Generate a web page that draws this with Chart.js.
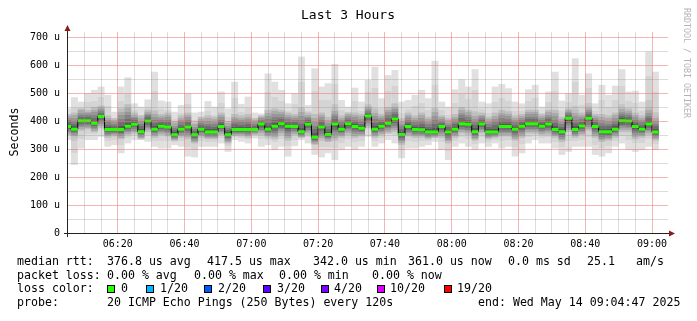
<!DOCTYPE html>
<html>
<head>
<meta charset="utf-8">
<script src="https://cdn.jsdelivr.net/npm/chart.js@4"></script>
<style>
html, body { margin: 0; padding: 0; background: #fff; }
</style>
</head>
<body>
<canvas id="smoke-chart" width="697" height="321"></canvas>
<script>
// samples every 120 s, first one starts 06:04 (minutes after 06:00)
const firstSample = 4;
const sampleStep = 2;
const viewStart = 4 + 47 / 60;   // 06:04:47
const viewEnd = 184 + 47 / 60;   // 09:04:47

// median rtt per sample (us)
const median = [380, 371, 401, 401, 392, 416, 370, 370, 370, 381,
    388, 362, 400, 371, 381, 379, 351, 371, 379, 351,
    371, 361, 361, 380, 351, 370, 370, 370, 370, 389,
    371, 381, 390, 381, 380, 362, 388, 342, 379, 352,
    389, 371, 390, 380, 374, 417.5, 371, 381, 392, 407,
    352, 380, 370, 369, 361, 361, 380, 361, 371, 390,
    388, 362, 389, 361, 361, 380, 380, 371, 381, 390,
    390, 381, 389, 370, 362, 410, 370, 382, 410, 380,
    362, 362, 371, 401, 400, 380, 371, 389, 361];

// slowest ping per sample
const smokeMax = [445, 485, 469, 499, 511, 523, 493, 433, 523, 556,
    463, 451, 477, 576, 473, 469, 433, 457, 499, 430,
    433, 471, 451, 505, 445, 540, 461, 487, 430, 427,
    570, 540, 511, 463, 499, 630, 457, 588, 523, 535,
    604, 475, 451, 519, 469, 546, 594, 481, 564, 582,
    469, 475, 493, 511, 481, 615, 469, 451, 513, 549,
    523, 585, 469, 463, 523, 532, 517, 469, 463, 513,
    529, 451, 505, 576, 473, 499, 624, 493, 570, 463,
    529, 493, 526, 585, 505, 508, 469, 648, 576];

// fastest ping per sample
const smokeMin = [332, 243, 302, 332, 332, 344, 308, 314, 285, 320,
    332, 332, 326, 308, 302, 302, 314, 308, 273, 270,
    308, 308, 308, 320, 290, 332, 326, 320, 338, 308,
    314, 296, 308, 273, 310, 332, 320, 279, 270, 285,
    261, 296, 308, 296, 308, 344, 308, 320, 332, 320,
    267, 302, 302, 308, 314, 326, 296, 261, 308, 320,
    308, 296, 320, 308, 320, 302, 308, 273, 285, 320,
    332, 320, 320, 302, 279, 290, 308, 308, 308, 279,
    273, 285, 308, 320, 296, 290, 296, 308, 296];

// dense part of the smoke (upper / lower)
const smokeHi = [425, 430, 445, 440, 450, 455, 420, 410, 445, 460,
    430, 420, 440, 435, 425, 430, 400, 420, 430, 395,
    415, 420, 415, 430, 400, 425, 420, 425, 410, 420,
    440, 445, 440, 430, 425, 445, 430, 425, 430, 415,
    445, 420, 430, 430, 425, 455, 440, 425, 450, 460,
    410, 430, 420, 430, 415, 445, 420, 410, 425, 450,
    440, 430, 430, 415, 430, 440, 435, 420, 425, 440,
    440, 425, 440, 440, 415, 445, 440, 430, 455, 425,
    425, 420, 430, 450, 445, 430, 420, 450, 420];

const smokeLo = [350, 340, 365, 370, 360, 375, 340, 345, 335, 350,
    355, 335, 360, 340, 350, 345, 330, 340, 335, 320,
    340, 335, 335, 350, 320, 345, 345, 340, 350, 350,
    340, 335, 350, 330, 350, 340, 350, 315, 330, 325,
    330, 340, 350, 340, 345, 375, 340, 350, 355, 360,
    315, 345, 340, 340, 335, 340, 340, 320, 340, 355,
    350, 330, 355, 335, 340, 345, 345, 330, 340, 355,
    355, 350, 350, 340, 325, 360, 340, 350, 365, 340,
    325, 330, 340, 360, 360, 335, 340, 350, 330];

const timeLabels = ['06:20', '06:40', '07:00', '07:20', '07:40', '08:00', '08:20', '08:40', '09:00'];
const yLabels = ['0', '100 u', '200 u', '300 u', '400 u', '500 u', '600 u', '700 u'];

const lossLabels = ['0', '1/20', '2/20', '3/20', '4/20', '10/20', '19/20'];
const lossColors = ['#26ff00', '#00b8ff', '#0059ff', '#5e00ff', '#7e00ff', '#dd00ff', '#ff0000'];

const rttStats = ['376.8 us avg', '417.5 us max', '342.0 us min', '361.0 us now', '0.0 ms sd', '25.1', 'am/s'];
const lossStats = ['0.00 % avg', '0.00 % max', '0.00 % min', '0.00 % now'];

const MONO = '"DejaVu Sans Mono", "Liberation Mono", monospace';
const majorGrid = 'rgba(235, 110, 110, 0.5)';
const minorGrid = 'rgba(140, 140, 140, 0.3)';
const outerShades = ['#e0e0e0', '#d4d4d4', '#c6c6c6'];
const innerShades = ['#bebebe', '#aaaaaa', '#979797', '#838383', '#6e6e6e', '#585858'];

// centre / edges of each 2 minute sample
const centers = median.map((_, i) => firstSample + i * sampleStep + sampleStep / 2);
const edges = median.map((_, i) => firstSample + i * sampleStep);

function bands(c, top, mid, bot, shades) {
    const h = bot - top;
    if (!(h > 0)) return shades[shades.length - 1];
    const g = c.createLinearGradient(0, top, 0, bot);
    const f = Math.min(Math.max((mid - top) / h, 0.02), 0.98);
    const n = shades.length;
    for (let k = 0; k < n; k++) {
        g.addColorStop(f * k / n, shades[k]);
        g.addColorStop(f * (k + 1) / n, shades[k]);
    }
    for (let k = 0; k < n; k++) {
        g.addColorStop(f + (1 - f) * k / n, shades[n - 1 - k]);
        g.addColorStop(f + (1 - f) * (k + 1) / n, shades[n - 1 - k]);
    }
    return g;
}

function smokeFill(hiArr, loArr, shades) {
    return (ctx) => {
        const chart = ctx.chart;
        const y = chart.scales && chart.scales.y;
        const i = ctx.dataIndex;
        if (!y || i === undefined || !chart.chartArea) return shades[0];
        return bands(chart.ctx,
            y.getPixelForValue(hiArr[i]),
            y.getPixelForValue(median[i]),
            y.getPixelForValue(loArr[i]),
            shades);
    };
}

// green loss-colour dashes, one per sample, broken between samples
const greenData = [];
median.forEach((m, i) => {
    greenData.push({ x: edges[i], y: m });
    greenData.push({ x: edges[i] + sampleStep, y: m });
    greenData.push({ x: edges[i] + sampleStep, y: null });
});

const medianLine = edges.map((x, i) => ({ x, y: median[i] }));
medianLine.push({ x: edges[edges.length - 1] + sampleStep, y: median[median.length - 1] });

const rrdDecor = {
    id: 'rrdDecor',
    beforeDraw(chart) {
        const c = chart.ctx;
        c.save();
        c.fillStyle = '#fff';
        c.fillRect(0, 0, chart.width, chart.height);
        c.restore();
    },
    afterDraw(chart) {
        const c = chart.ctx;
        const { left, right, top, bottom } = chart.chartArea;
        c.save();

        // title
        c.fillStyle = '#000';
        c.font = '13px ' + MONO;
        c.textAlign = 'center';
        c.textBaseline = 'middle';
        c.fillText('Last 3 Hours', 348, 16);

        // watermark
        c.save();
        c.translate(686, 8);
        c.rotate(Math.PI / 2);
        c.font = '8.3px ' + MONO;
        c.fillStyle = '#b4b4b4';
        c.textAlign = 'left';
        c.fillText('RRDTOOL / TOBI OETIKER', 0, 0);
        c.restore();

        // y axis title
        c.save();
        c.translate(15, 132);
        c.rotate(-Math.PI / 2);
        c.font = '11.6px ' + MONO;
        c.textAlign = 'center';
        c.fillText('Seconds', 0, 0);
        c.restore();

        // axes with arrows
        c.strokeStyle = '#222';
        c.lineWidth = 1;
        c.beginPath();
        c.moveTo(left + 0.5, bottom + 4);
        c.lineTo(left + 0.5, top - 3);
        c.moveTo(left - 3, bottom + 0.5);
        c.lineTo(right + 2, bottom + 0.5);
        c.stroke();
        c.fillStyle = '#8b1a1a';
        c.beginPath();
        c.moveTo(left + 0.5, top - 7);
        c.lineTo(left - 2.5, top - 1);
        c.lineTo(left + 3.5, top - 1);
        c.closePath();
        c.fill();
        c.beginPath();
        c.moveTo(right + 7, bottom + 0.5);
        c.lineTo(right + 1, bottom - 2.5);
        c.lineTo(right + 1, bottom + 3.5);
        c.closePath();
        c.fill();

        // legend
        c.fillStyle = '#000';
        c.font = '11.6px ' + MONO;
        c.textAlign = 'left';
        c.textBaseline = 'middle';
        c.fillText('median rtt:', 17, 262);
        [107, 207, 313, 408, 508, 587, 636].forEach((x, i) => c.fillText(rttStats[i], x, 262));

        c.fillText('packet loss:', 17, 275.5);
        [107, 194, 279, 372].forEach((x, i) => c.fillText(lossStats[i], x, 275.5));

        c.fillText('loss color:', 17, 289);
        const boxX = [107, 146, 204, 263, 321, 377, 444];
        const labX = [121, 160, 218, 277, 334, 390, 457];
        lossLabels.forEach((lab, i) => {
            c.fillStyle = lossColors[i];
            c.fillRect(boxX[i], 285, 8, 8);
            c.strokeStyle = '#000';
            c.strokeRect(boxX[i] + 0.5, 285.5, 7, 7);
            c.fillStyle = '#000';
            c.fillText(lab, labX[i], 289);
        });

        c.fillText('probe:', 17, 303);
        c.fillText('20 ICMP Echo Pings (250 Bytes) every 120s', 107, 303);
        c.fillText('end: Wed May 14 09:04:47 2025', 478, 303);

        c.restore();
    }
};

new Chart(document.getElementById('smoke-chart'), {
    type: 'bar',
    data: {
        datasets: [
            {
                type: 'line',
                data: greenData,
                borderColor: lossColors[0],
                borderWidth: 3,
                borderCapStyle: 'butt',
                pointRadius: 0,
                spanGaps: false,
                order: 1
            },
            {
                type: 'line',
                data: medianLine,
                stepped: 'before',
                borderColor: '#000',
                borderWidth: 1,
                pointRadius: 0,
                order: 2
            },
            {
                data: centers.map((x, i) => ({ x, y: [smokeLo[i], smokeHi[i]] })),
                backgroundColor: smokeFill(smokeHi, smokeLo, innerShades),
                borderWidth: 0,
                barPercentage: 1.04,
                categoryPercentage: 1,
                grouped: false,
                order: 3
            },
            {
                data: centers.map((x, i) => ({ x, y: [smokeMin[i], smokeMax[i]] })),
                backgroundColor: smokeFill(smokeMax, smokeMin, outerShades),
                borderWidth: 0,
                barPercentage: 1.04,
                categoryPercentage: 1,
                grouped: false,
                order: 4
            }
        ]
    },
    options: {
        responsive: false,
        animation: false,
        devicePixelRatio: 1,
        layout: { padding: { left: 0, top: 32, right: 29, bottom: 0 } },
        plugins: {
            legend: { display: false },
            tooltip: { enabled: false }
        },
        scales: {
            x: {
                type: 'linear',
                offset: false,
                min: viewStart,
                max: viewEnd,
                afterBuildTicks: (scale) => {
                    const t = [];
                    for (let v = 5; v <= 180; v += 5) t.push({ value: v });
                    scale.ticks = t;
                },
                afterFit: (scale) => { scale.height = 88; },
                grid: {
                    offset: false,
                    color: (ctx) => (ctx.tick && ctx.tick.value % 20 === 0 ? majorGrid : minorGrid),
                    drawTicks: false,
                    z: 1
                },
                border: { display: false },
                ticks: {
                    autoSkip: false,
                    maxRotation: 0,
                    padding: 5,
                    color: '#000',
                    font: { family: MONO, size: 10 },
                    callback: (v) => (v % 20 === 0 && v >= 20 ? timeLabels[v / 20 - 1] : '')
                }
            },
            y: {
                min: 0,
                max: 717.9,
                afterBuildTicks: (scale) => {
                    const t = [];
                    for (let v = 0; v <= 700; v += 50) t.push({ value: v });
                    scale.ticks = t;
                },
                afterFit: (scale) => { scale.width = 67; },
                grid: {
                    color: (ctx) => (ctx.tick && ctx.tick.value % 100 === 0 ? majorGrid : minorGrid),
                    drawTicks: false,
                    z: 1
                },
                border: { display: false },
                ticks: {
                    autoSkip: false,
                    padding: 7,
                    color: '#000',
                    font: { family: MONO, size: 10 },
                    callback: (v) => (v % 100 === 0 ? yLabels[v / 100] : '')
                }
            }
        }
    },
    plugins: [rrdDecor]
});
</script>
</body>
</html>
